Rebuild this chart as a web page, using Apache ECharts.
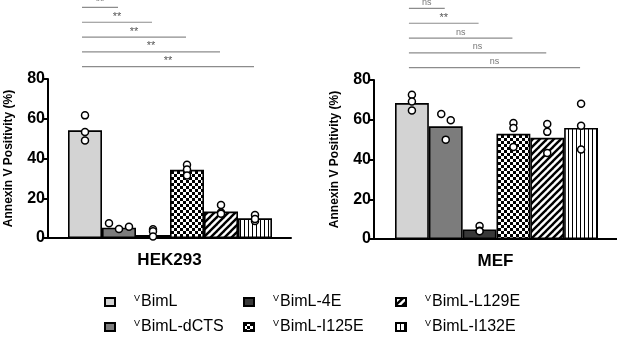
<!DOCTYPE html>
<html><head><meta charset="utf-8">
<script src="https://cdn.jsdelivr.net/npm/echarts@6/dist/echarts.min.js"></script>
<style>html,body{margin:0;padding:0;background:#fff}#c{width:617px;height:342px}</style>
</head><body><div id="c"></div>
<script>
// ---- data ----
const variants = ['BimL','BimL-dCTS','BimL-4E','BimL-I125E','BimL-L129E','BimL-I132E'];
const panels = ['HEK293','MEF'];
const hekMeans = [54.2, 5.2, 1.5, 34.3, 13.3, 9.9];
const hekPoints = [[61.7,53.3,49],[7.4,4.5,5.7],[4.4,3.4,0.7],[36.9,34.5,31.5],[16.6,12.8,12.2],[11.6,8.6,9.6]];
const mefMeans = [68.4, 56.7, 4.8, 52.9, 50.9, 55.9];
const mefPoints = [[72.6,69.2,64.7],[62.9,59.7,50],[6.5,4.2,3.9],[58.4,55.9,46.3],[57.9,53.9,43.3],[68.1,57,45]];
const hekSig = ['**','**','**','**','**'];   // BimL vs variant 1..5
const mefSig = ['ns','**','ns','ns','ns'];
const yTicks = [0, 20, 40, 60, 80];

// ---- styles ----
const FONT = '"Liberation Sans", Arial, sans-serif';
const hekJitterPx = {1: [-10, 0, 10]};
const mefJitterPx = {1: [-4.5, 5, 0]};

function pat(w, h, draw) {
  const c = document.createElement('canvas'); c.width = w; c.height = h;
  const g = c.getContext('2d'); g.fillStyle = '#fff'; g.fillRect(0, 0, w, h);
  g.fillStyle = '#000'; g.strokeStyle = '#000'; draw(g);
  return {image: c, repeat: 'repeat'};
}
const checker = pat(6, 6, g => { g.fillRect(0,0,3,3); g.fillRect(3,3,3,3); });
const diag = pat(7, 7, g => {
  g.lineWidth = 2.4;
  for (let k = -1; k <= 1; k++) { g.beginPath(); g.moveTo(-1 + k*7, 8); g.lineTo(8 + k*7, -1); g.stroke(); }
});
const vert = pat(4, 4, g => { g.fillRect(0,0,1,4); });
const fills = ['#d3d3d3', '#7c7c7c', '#383838', checker, diag, vert];

// layout per panel: axis grid and bar grid
const layout = [
  {axis: {left: 48, width: 243, top: 79, bottom: 104}, bars: {left: 68, width: 204, top: 79, bottom: 104}},
  {axis: {left: 374, width: 245, top: 80, bottom: 103}, bars: {left: 395, width: 203, top: 80, bottom: 103}}
];

const grids = [], xAxes = [], yAxes = [], series = [];
const means = [hekMeans, mefMeans], points = [hekPoints, mefPoints], sigs = [hekSig, mefSig], jit = [hekJitterPx, mefJitterPx];

panels.forEach((pname, p) => {
  grids.push(layout[p].axis, layout[p].bars);
  const ia = 2*p, ib = 2*p + 1;
  xAxes.push({
    type: 'category', gridIndex: ia, data: [pname], boundaryGap: true,
    axisLine: {lineStyle: {color: '#000', width: 2}},
    axisTick: {alignWithLabel: true, length: 5, lineStyle: {color: '#000', width: 2}},
    axisLabel: {color: '#000', fontWeight: 'bold', fontSize: 17, fontFamily: FONT, margin: 14}
  });
  xAxes.push({type: 'category', gridIndex: ib, data: variants, show: false, boundaryGap: true});
  yAxes.push({
    type: 'value', gridIndex: ia, min: yTicks[0], max: yTicks[yTicks.length-1], interval: yTicks[1]-yTicks[0],
    name: 'Annexin V Positivity (%)', nameLocation: 'middle', nameGap: 33,
    nameTextStyle: {color: '#000', fontWeight: 'bold', fontSize: 12, fontFamily: FONT},
    axisLine: {show: true, lineStyle: {color: '#000', width: 2}},
    axisTick: {show: true, length: 4, lineStyle: {color: '#000', width: 2}},
    axisLabel: {color: '#000', fontWeight: 'bold', fontSize: 16, fontFamily: FONT, margin: 3},
    splitLine: {show: false}
  });
  yAxes.push({type: 'value', gridIndex: ib, min: yTicks[0], max: yTicks[yTicks.length-1], show: false, splitLine: {show: false}});

  variants.forEach((v, i) => {
    series.push({
      type: 'bar', name: v, xAxisIndex: ib, yAxisIndex: ib,
      data: means[p].map((m, j) => j === i ? m : '-'),
      barWidth: '100%', barGap: '-100%',
      itemStyle: {color: fills[i], borderColor: '#000', borderWidth: 1.6},
      emphasis: {disabled: true}, z: 2
    });
  });

  const sdata = [];
  points[p].forEach((arr, i) => arr.forEach((val, k) => {
    const off = jit[p][i] ? jit[p][i][k] : 0;
    sdata.push({value: [i, val], symbolOffset: [off, 0]});
  }));
  series.push({
    type: 'scatter', xAxisIndex: ib, yAxisIndex: ib, data: sdata, symbol: 'circle', symbolSize: 7,
    itemStyle: {color: '#fff', borderColor: '#000', borderWidth: 1.5, opacity: 1}, z: 5, silent: true
  });

  const sig = sigs[p];
  series.push({
    type: 'custom', xAxisIndex: ib, yAxisIndex: ib, clip: false, silent: true, z: 6,
    data: sig.map((s, j) => [j + 1, 116 - j * 7.45]),
    renderItem: function (params, api) {
      const j = api.value(0), h = api.value(1);
      const a = api.coord([0, h]), b = api.coord([j, h]);
      const x0 = a[0] - 3, x1 = b[0] - 1, y = a[1];
      const lbl = sig[params.dataIndex];
      return {type: 'group', children: [
        {type: 'line', shape: {x1: x0, y1: y, x2: x1, y2: y}, style: {stroke: '#8c8c8c', lineWidth: 1.2}},
        {type: 'text', style: {text: lbl, x: (x0 + x1) / 2, y: y - (lbl === '**' ? 0 : 1.5), align: 'center', verticalAlign: 'bottom',
          fill: lbl === '**' ? '#555' : '#777', font: (lbl === '**' ? '11px ' : '9px ') + FONT}}
      ]};
    }
  });
});

const legendBase = {
  orient: 'vertical', top: 294, itemWidth: 10, itemHeight: 8, itemGap: 9, padding: 0, icon: 'rect',
  selectedMode: false,
  formatter: n => '{v|V}{t|' + n + '}',
  textStyle: {
    rich: {
      v: {fontSize: 9, fontFamily: FONT, color: '#000', verticalAlign: 'top', padding: [0, 1, 0, 14], lineHeight: 16},
      t: {fontSize: 16, fontFamily: FONT, color: '#000', lineHeight: 16}
    }
  }
};
const legendCols = [[0, 1, 104], [2, 3, 243], [4, 5, 395]];
const legends = legendCols.map(c => Object.assign({}, legendBase, {left: c[2], data: [variants[c[0]], variants[c[1]]]}));

const chart = echarts.init(document.getElementById('c'), null, {renderer: 'canvas'});
chart.setOption({
  animation: false, backgroundColor: '#fff',
  grid: grids, xAxis: xAxes, yAxis: yAxes, legend: legends, series: series
});
</script></body></html>
